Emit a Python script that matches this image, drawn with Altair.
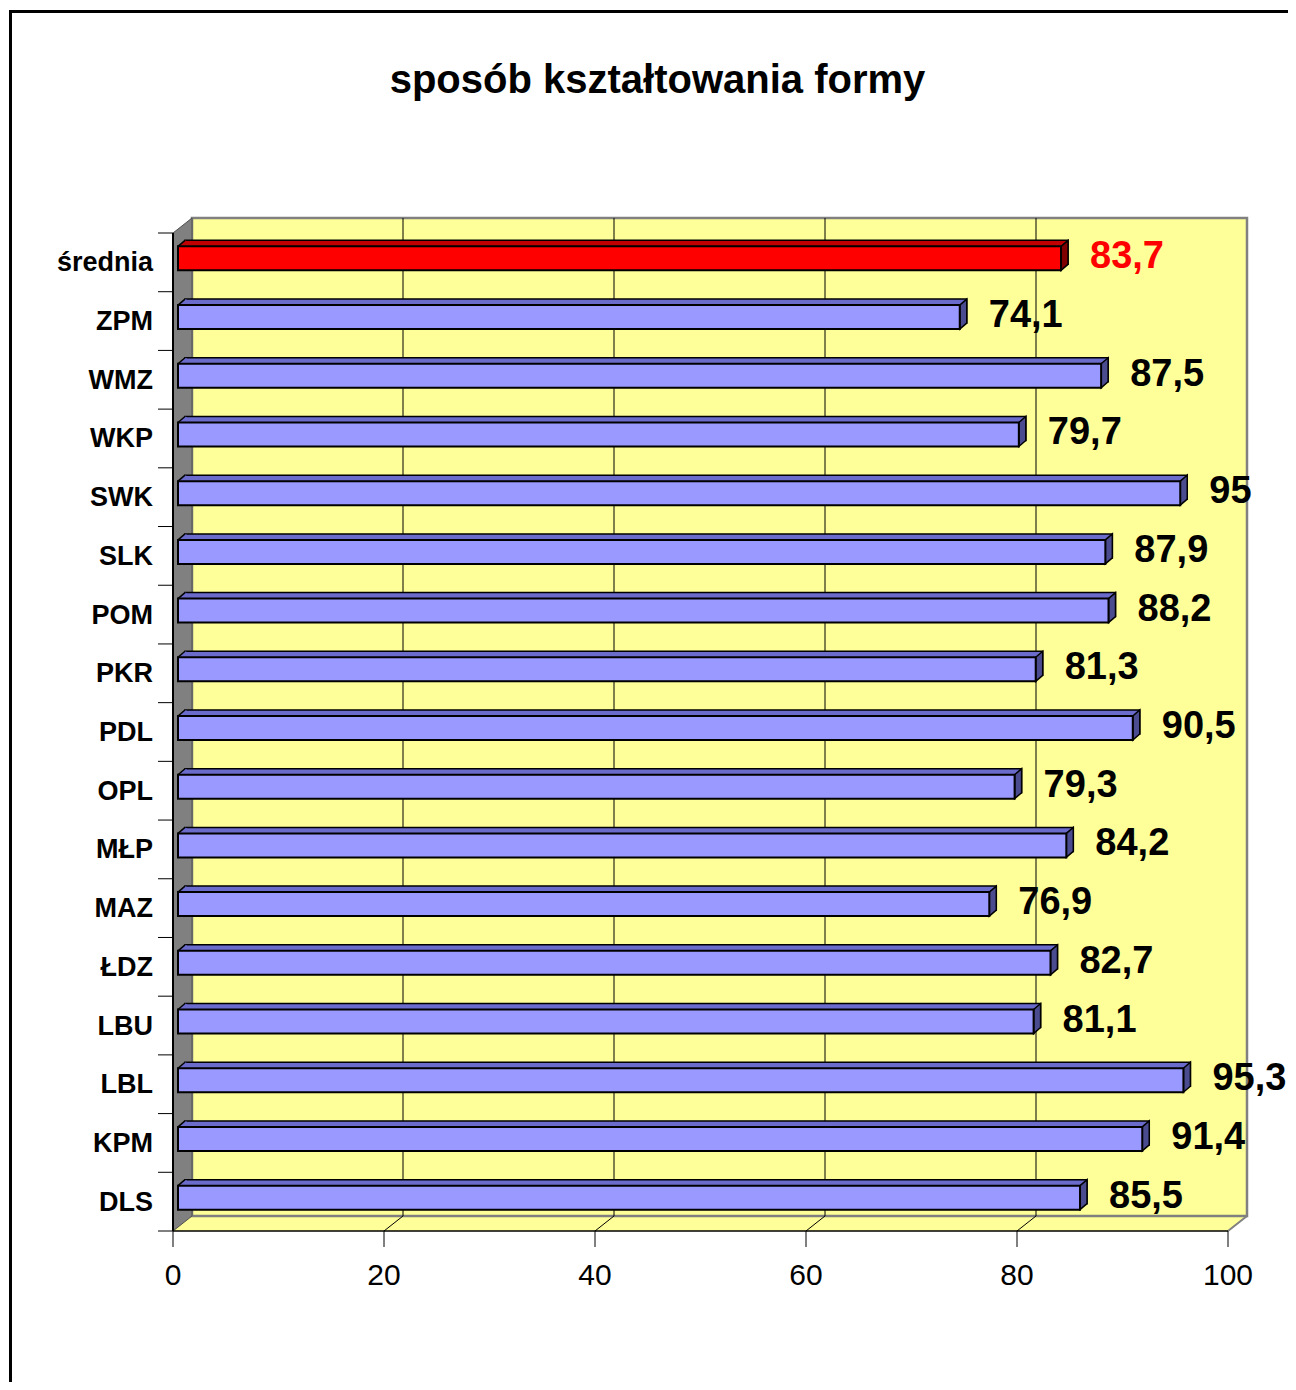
import altair as alt
import pandas as pd

# ---- data ----
kategorie = ["średnia", "ZPM", "WMZ", "WKP", "SWK", "SLK", "POM", "PKR", "PDL",
             "OPL", "MŁP", "MAZ", "ŁDZ", "LBU", "LBL", "KPM", "DLS"]
wartosci = [83.7, 74.1, 87.5, 79.7, 95, 87.9, 88.2, 81.3, 90.5,
            79.3, 84.2, 76.9, 82.7, 81.1, 95.3, 91.4, 85.5]
siatka = [20, 40, 60, 80]
osie_x = [0, 20, 40, 60, 80, 100]
zakres = [0, 100]
tytul = "sposób kształtowania formy"


def fmt(v):
    return f"{v:g}".replace(".", ",")


df = pd.DataFrame({"kategoria": kategorie, "wartosc": wartosci,
                   "etykieta": [fmt(v) for v in wartosci], "zero": 0})
df_grid = pd.DataFrame({"v": siatka})
df_ticks = pd.DataFrame({"v": osie_x, "t": [str(v) for v in osie_x]})
one = pd.DataFrame({"lo": [zakres[0]], "hi": [zakres[1]]})

# ---- layout (pixels) ----
W, H = 1055, 998
PAD = {"left": 165, "top": 225, "right": 60, "bottom": 151}
FONT = "Liberation Sans"
WDX, WDY = 19, 15          # wall depth
DX, DY = 7, 6              # bar depth
BH = 24                    # bar front height
BY = -4                    # bar centre shift
BX = 5                     # bar start shift
YELLOW = "#FFFF99"
GRAY = "#808080"

x_scale = alt.Scale(domain=zakres, nice=False, zero=True)
y_scale = alt.Scale(domain=kategorie, paddingInner=0, paddingOuter=0)
is_avg = alt.datum.kategoria == "średnia"


def pick(red, blue):
    return alt.condition(is_avg, alt.value(red), alt.value(blue))


def xf(field):
    return alt.X(field, type="quantitative", scale=x_scale, axis=None)


y_plain = alt.Y("kategoria:N", sort=kategorie, scale=y_scale, axis=None)

base1 = alt.Chart(one)

frame_top = base1.mark_rule(color="black", strokeWidth=3).encode(
    x=alt.value(-164), x2=alt.value(W + PAD["right"]), y=alt.value(-221.5))
frame_left = base1.mark_rule(color="black", strokeWidth=3).encode(
    x=alt.value(-162.5), y=alt.value(-223), y2=alt.value(H + PAD["bottom"]))

title = base1.mark_text(text=tytul, font=FONT, fontSize=40, fontWeight="bold",
                        align="center", baseline="alphabetic", color="black").encode(
    x=alt.value(484.5), y=alt.value(-140))

floor = base1.mark_rect(fill=YELLOW, x2Offset=WDX).encode(
    x=xf("lo"), x2="hi:Q", y=alt.value(H - WDY), y2=alt.value(H))
floor_cut = base1.mark_point(shape="M0,0 L19,-15 L24,-15 L24,3 L0,3 Z", size=4,
                             filled=True, fill="white", strokeWidth=0, opacity=1).encode(
    x=xf("hi"), y=alt.value(H))
floor_edge = base1.mark_point(shape="M0,0 L19,-15", size=4, filled=False,
                              stroke=GRAY, strokeWidth=2, opacity=1).encode(
    x=xf("hi"), y=alt.value(H))

wall = base1.mark_rect(fill=YELLOW, stroke=GRAY, strokeWidth=2.5,
                       xOffset=WDX, x2Offset=WDX).encode(
    x=xf("lo"), x2="hi:Q", y=alt.value(-WDY), y2=alt.value(H - WDY))

grid = alt.Chart(df_grid).mark_rule(color="black", strokeWidth=1, xOffset=WDX).encode(
    x=xf("v"), y=alt.value(-WDY), y2=alt.value(H - WDY))
grid_floor = alt.Chart(df_grid).mark_point(shape="M0,0 L19,-15", size=4, filled=False,
                                           stroke="black", strokeWidth=1, opacity=1).encode(
    x=xf("v"), y=alt.value(H))

side = base1.mark_point(shape="M0,0 L19,-15 L19,983 L0,998 Z", size=4, filled=True,
                        fill=GRAY, stroke="#505050", strokeWidth=1, opacity=1).encode(
    x=xf("lo"), y=alt.value(0))

# ---- y axis (drawn by hand) ----
BAND = H / len(kategorie)
yticks = alt.Chart(df).mark_rule(color="black", strokeWidth=1, yOffset=-BAND / 2).encode(
    x=alt.value(-15), x2=alt.value(0), y=y_plain)
ytick_end = base1.mark_rule(color="black", strokeWidth=1).encode(
    x=alt.value(-15), x2=alt.value(0), y=alt.value(H))
ydomain = base1.mark_rule(color="black", strokeWidth=2).encode(
    x=alt.value(0), y=alt.value(0), y2=alt.value(H))
ylabels = alt.Chart(df).mark_text(align="right", baseline="alphabetic", dy=9,
                                  font=FONT, fontSize=27, fontWeight="bold",
                                  color="black").encode(
    x=alt.value(-20), y=y_plain, text="kategoria:N")

# ---- x axis (drawn by hand) ----
xdomain = base1.mark_rule(color="black", strokeWidth=1.5).encode(
    x=xf("lo"), x2="hi:Q", y=alt.value(H))
xticks = alt.Chart(df_ticks).mark_rule(color="black", strokeWidth=1).encode(
    x=xf("v"), y=alt.value(H), y2=alt.value(H + 16))
xlabels = alt.Chart(df_ticks).mark_text(align="center", baseline="alphabetic",
                                        font=FONT, fontSize=30, color="black").encode(
    x=xf("v"), y=alt.value(H + 54), text="t:N")

# ---- bars ----
bars = alt.Chart(df)
TOP_RED, TOP_BLUE = "#C00000", "#6B6BCB"
SIDE_RED, SIDE_BLUE = "#800000", "#4B4B8F"

back = bars.mark_bar(height=BH, xOffset=BX + DX, x2Offset=BX + DX, yOffset=BY - DY,
                     stroke="black", strokeWidth=1.5).encode(
    x=xf("wartosc"), x2="zero:Q", y=y_plain, fill=pick(TOP_RED, TOP_BLUE))
left_fill = bars.mark_point(shape="M0,0 L7,-6 L8.8,-5.2 L8.8,0 Z", size=4, filled=True,
                            strokeWidth=0, opacity=1, xOffset=BX,
                            yOffset=BY - BH / 2).encode(
    x=xf("zero"), y=y_plain, fill=pick(TOP_RED, TOP_BLUE))
left_line = bars.mark_point(shape="M0,0 L7,-6", size=4, filled=False, stroke="black",
                            strokeWidth=1.5, opacity=1, xOffset=BX,
                            yOffset=BY - BH / 2).encode(
    x=xf("zero"), y=y_plain)
right_face = bars.mark_point(shape="M0,0 L7,-6 L7,18 L0,24 Z", size=4, filled=True,
                             stroke="black", strokeWidth=1.5, opacity=1, xOffset=BX,
                             yOffset=BY - BH / 2).encode(
    x=xf("wartosc"), y=y_plain, fill=pick(SIDE_RED, SIDE_BLUE))
front = bars.mark_bar(height=BH, xOffset=BX, x2Offset=BX, yOffset=BY,
                      stroke="black", strokeWidth=2).encode(
    x=xf("wartosc"), x2="zero:Q", y=y_plain, fill=pick("#FF0000", "#9999FF"))
labels = bars.mark_text(align="left", baseline="alphabetic", dx=34, dy=6, font=FONT,
                        fontSize=38, fontWeight="bold").encode(
    x=xf("wartosc"), y=y_plain, text="etykieta:N", color=pick("#FF0000", "black"))

chart = alt.layer(
    frame_top, frame_left, title, floor, floor_cut, floor_edge, wall, grid, grid_floor,
    side, yticks, ytick_end, ydomain, ylabels, xdomain, xticks, xlabels,
    back, left_fill, left_line, right_face, front, labels
).properties(
    width=W, height=H, padding=PAD, autosize=alt.AutoSizeParams(type="none"),
    background="white"
).configure_view(stroke=None)

chart.save("out.html", embed_options={"renderer": "svg", "actions": False})
